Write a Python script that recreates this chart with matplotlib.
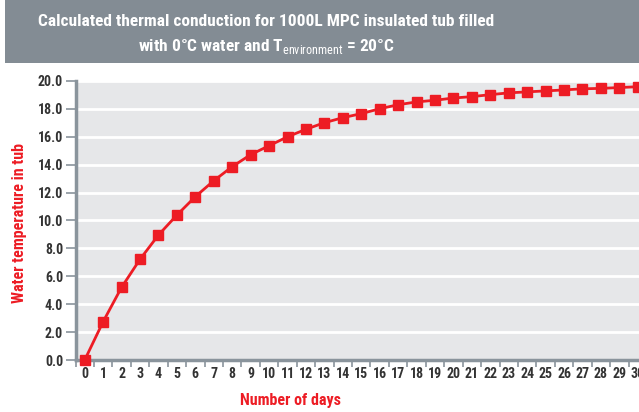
import matplotlib
matplotlib.use("Agg")
import matplotlib.pyplot as plt
from matplotlib.patches import Rectangle

days = list(range(0, 31))
temperature = [0.0, 2.75, 5.21, 7.22, 8.96, 10.39, 11.71, 12.85, 13.86, 14.72,
               15.36, 16.0, 16.54, 17.01, 17.37, 17.66, 18.01, 18.3, 18.5, 18.62,
               18.78, 18.88, 19.02, 19.15, 19.22, 19.29, 19.36, 19.44, 19.47, 19.53, 19.59]
y_ticks = [0, 2, 4, 6, 8, 10, 12, 14, 16, 18, 20]

title_line1 = "Calculated thermal conduction for 1000L MPC insulated tub filled"
title_line2 = r"with 0°C water and T$_{\mathsf{environment}}$ = 20°C"
xlabel = "Number of days"
ylabel = "Water temperature in tub"

cond = "Roboto Condensed"
plt.rcParams['font.family'] = [cond, 'DejaVu Sans']
plt.rcParams['mathtext.fontset'] = 'custom'
plt.rcParams['mathtext.sf'] = cond + ':normal'
plt.rcParams['mathtext.rm'] = cond + ':bold'

W, H = 639, 412
fig = plt.figure(figsize=(W / 100, H / 100), dpi=100)
fig.patch.set_facecolor("white")

# title band
fig.patches.append(Rectangle((5 / W, 1 - 63 / H), 1, 63 / H, transform=fig.transFigure,
                             facecolor="#838c94", edgecolor="none", zorder=0))
fig.text(266 / W, 1 - 22 / H, title_line1, color="white", fontsize=12.5, fontweight="bold",
         ha="center", va="center")
fig.text(266 / W, 1 - 47 / H, title_line2, color="white", fontsize=12.5, fontweight="bold",
         ha="center", va="center")

left, right, top, bottom = 75.5, 647, 81, 360
ax = fig.add_axes([left / W, 1 - bottom / H, (right - left) / W, (bottom - top) / H])
ax.set_facecolor("#e6e7e9")

ax.plot(days, temperature, color="#ed1c24", lw=2, marker="s", markersize=6.5,
        markeredgecolor="#ed1c24", markerfacecolor="#ed1c24", zorder=3, clip_on=False)

ax.set_xlim(-0.5, 30.5)
ax.set_ylim(0, 20)
ax.set_yticks(y_ticks)
ax.set_yticklabels([f"{v:.1f}" for v in y_ticks], fontsize=10, fontweight="bold", color="#333333")
ax.grid(axis="y", color="white", lw=2)
ax.set_axisbelow(True)

ax.set_xticks([d - 0.5 for d in days] + [30.5])
ax.set_xticklabels([])
ax.set_xticks(days, minor=True)
ax.set_xticklabels([str(d) for d in days], minor=True, fontsize=10, fontweight="bold",
                   color="#333333")
ax.tick_params(axis="x", which="major", length=5, width=1.2, color="#8a949c", direction="out")
ax.tick_params(axis="x", which="minor", length=0, pad=5)
ax.tick_params(axis="y", length=7, width=1.2, color="#8a949c", pad=2)

for s in ["top", "right"]:
    ax.spines[s].set_visible(False)
for s in ["left", "bottom"]:
    ax.spines[s].set_color("#8a949c")
    ax.spines[s].set_linewidth(2.5)

ax.set_ylabel(ylabel, color="#ed1c24", fontsize=11.5, fontweight="bold")
ax.yaxis.set_label_coords(-(left - 27) / (right - left), 0.49)
fig.text(290 / W, 1 - 400 / H, xlabel, color="#ed1c24", fontsize=11.5, fontweight="bold",
         ha="center", va="center")

fig.savefig("out.png", dpi=100)
